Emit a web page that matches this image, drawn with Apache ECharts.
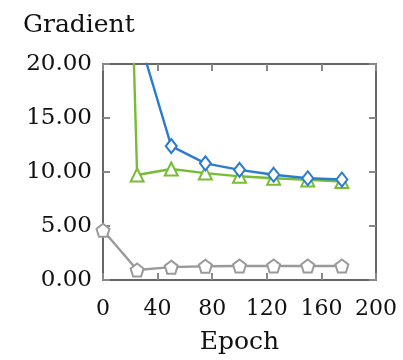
<!DOCTYPE html>
<html>
<head>
<meta charset="utf-8">
<script src="https://cdn.jsdelivr.net/npm/echarts@6/dist/echarts.min.js"></script>
<style>
  html, body { margin: 0; padding: 0; background: #fff; }
  #chart { width: 403px; height: 360px; }
</style>
</head>
<body>
<div id="chart"></div>
<script>
// data
const blueEpochs = [25, 50, 75, 100, 125, 150, 175];
const blueValues = [23.0, 12.4, 10.8, 10.2, 9.75, 9.42, 9.3];
const greenEpochs = [0, 25, 50, 75, 100, 125, 150, 175];
const greenValues = [120, 9.72, 10.28, 9.9, 9.6, 9.42, 9.27, 9.11];
const grayEpochs = [0, 25, 50, 75, 100, 125, 150, 175];
const grayValues = [4.6, 0.92, 1.19, 1.28, 1.3, 1.3, 1.3, 1.3];
const xTicks = [0, 40, 80, 120, 160, 200];
const yTicks = [0, 5, 10, 15, 20];

const pentagon = 'path://M0,-10 L9.51,-3.09 L5.88,8.09 L-5.88,8.09 L-9.51,-3.09 Z';
const font = 'DejaVu Serif';

const pairs = (xs, ys) => xs.map((x, i) => [x, ys[i]]);

const chart = echarts.init(document.getElementById('chart'));

const lineSeries = (name, xs, ys, color, symbol, size) => ({
  name: name,
  type: 'line',
  data: pairs(xs, ys),
  symbol: symbol,
  symbolSize: size,
  showAllSymbol: true,
  clip: true,
  lineStyle: { color: color, width: 2.4 },
  itemStyle: { color: '#fff', borderColor: color, borderWidth: 2 },
  emphasis: { disabled: true },
  z: 3
});

// shared axis look: dark frame line, short grey ticks pointing into the plot
const frameLine = { show: true, onZero: false, lineStyle: { color: '#333', width: 1.5 } };
const innerTick = { show: true, inside: true, length: 7, lineStyle: { color: '#888', width: 2 } };

const option = {
  animation: false,
  title: {
    text: 'Gradient',
    left: 18,
    top: 8,
    textStyle: { fontFamily: font, fontSize: 25, fontWeight: 'normal', color: '#111' }
  },
  grid: { left: 103, right: 27, top: 64, bottom: 78 },
  xAxis: [{
    type: 'value',
    position: 'bottom',
    min: 0, max: 200, interval: 40,
    name: 'Epoch',
    nameLocation: 'middle',
    nameGap: 50,
    nameTextStyle: { fontFamily: font, fontSize: 25, color: '#111' },
    axisLine: frameLine,
    axisTick: innerTick,
    axisLabel: {
      fontFamily: font, fontSize: 22, color: '#111', margin: 18,
      formatter: v => xTicks.includes(v) ? String(v) : ''
    },
    splitLine: { show: false }
  }, {
    type: 'value', position: 'top',
    min: 0, max: 200, interval: 40,
    axisLine: frameLine,
    axisTick: innerTick,
    axisLabel: { show: false },
    splitLine: { show: false }
  }],
  yAxis: [{
    type: 'value',
    position: 'left',
    min: 0, max: 20, interval: 5,
    axisLine: frameLine,
    axisTick: innerTick,
    axisLabel: {
      fontFamily: font, fontSize: 23, color: '#111', margin: 11,
      formatter: v => yTicks.includes(v) ? v.toFixed(2) : ''
    },
    splitLine: { show: false }
  }, {
    type: 'value', position: 'right',
    min: 0, max: 20, interval: 5,
    axisLine: frameLine,
    axisTick: innerTick,
    axisLabel: { show: false },
    splitLine: { show: false }
  }],
  series: [
    lineSeries('gray', grayEpochs, grayValues, '#9a9a9a', pentagon, 13),
    lineSeries('green', greenEpochs, greenValues, '#78bc35', 'triangle', 13),
    lineSeries('blue', blueEpochs, blueValues, '#2b7ccf', 'diamond', [11, 14]),
    // empty series so the top and right frame axes are drawn
    { type: 'line', xAxisIndex: 1, yAxisIndex: 1, data: [], silent: true }
  ]
};

chart.setOption(option);
</script>
</body>
</html>
